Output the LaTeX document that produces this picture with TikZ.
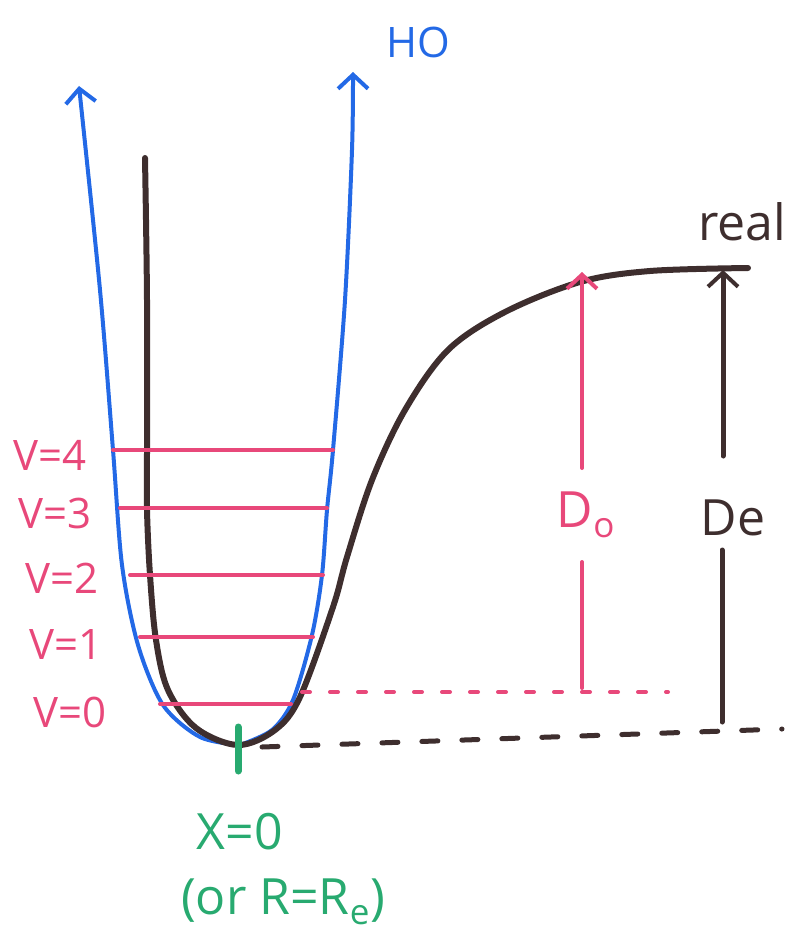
\documentclass[tikz,border=0pt]{standalone}
\usepackage{fontspec}
\setsansfont{Open Sans}
\usetikzlibrary{arrows.meta}

\definecolor{hoblue}{RGB}{35,105,230}
\definecolor{realbrown}{RGB}{62,46,46}
\definecolor{levelpink}{RGB}{232,72,122}
\definecolor{zerogreen}{RGB}{40,170,112}

\begin{document}
\begin{tikzpicture}[x=1pt, y=-1pt, line cap=round, line join=round,
    lbl/.style={anchor=center, inner sep=0pt, font=\sffamily\fontsize{42}{48}\selectfont},
    big/.style={lbl, font=\sffamily\fontsize{50}{56}\selectfont}]
  \def\barb{-{Straight Barb[length=14pt,width=30pt,line width=4pt]}}

  % ════ 画布 ════
  \path[use as bounding box] (0,0) rectangle (804,936);

  % ════ 谐振子势（蓝色抛物线）════
  \draw[hoblue, line width=4pt, \barb] plot[smooth] coordinates {
      (240,745) (200,737) (163,705) (138,645) (122,565) (113,450) (100,290) (79,86)};
  \draw[hoblue, line width=4pt, \barb] plot[smooth] coordinates {
      (240,745) (272,730) (293,700) (312,635) (322,575) (327,510) (333,450) (345,300) (352,150) (353,72)};

  % ════ 真实势（棕黑色曲线）════
  \draw[realbrown, line width=6pt] plot[smooth, tension=0.55] coordinates {
      (145,158) (147,300) (147,450) (147,510) (150,575) (156,640) (168,690) (196,728) (238,745)
      (275,730) (300,697) (333,607) (347,557) (372,480) (405,410) (448,350) (505,312) (580,282)
      (650,271) (748,268)};

  % ════ 振动能级 v = 0..4 ════
  \foreach \yy/\xa/\xb in {450/113/333, 508/120/327, 575/130/323, 637/140/313, 704/160/291}
    \draw[levelpink, line width=4pt] (\xa,\yy) -- (\xb,\yy);

  % ════ 基线（零点能虚线 / 势阱底虚线）════
  \draw[levelpink, line width=4pt, dash pattern=on 8pt off 20pt] (302,692) -- (668,692);
  \draw[realbrown, line width=5pt, dash pattern=on 16pt off 24pt] (262,747) -- (782,729);

  % ════ 平衡位置标记 ════
  \draw[zerogreen, line width=7pt] (238,727) -- (238,771);

  % ════ 标签 ════
  \node[lbl, hoblue]    (ho)   at (418,42)  {HO};
  \node[big, realbrown] (real) at (742,222) {real};
  \node[lbl, levelpink] (v4)   at (50,455)  {V=4};
  \node[lbl, levelpink] (v3)   at (55,513)  {V=3};
  \node[lbl, levelpink] (v2)   at (62,578)  {V=2};
  \node[lbl, levelpink] (v1)   at (66,645)  {V=1};
  \node[lbl, levelpink] (v0)   at (70,712)  {V=0};
  \node[big, levelpink] (dnot) at (586,515) {D\textsubscript{o}};
  \node[big, realbrown] (de)   at (733,518) {De};
  \node[big, zerogreen] (xzero) at (240,832) {X=0};
  \node[big, zerogreen] (rre)  at (283,902) {(or R=R\textsubscript{e})};

  % ════ 离解能箭头 D0 / De ════
  \coordinate (d0top) at (582,272);
  \coordinate (d0bot) at (582,688);
  \coordinate (detop) at (723,270);
  \coordinate (debot) at (722,722);
  \draw[levelpink, line width=4pt, \barb] (582,468) -- (d0top);
  \draw[levelpink, line width=4pt] (582,562) -- (d0bot);
  \draw[realbrown, line width=5pt, \barb] (723,456) -- (detop);
  \draw[realbrown, line width=5pt] (722,550) -- (debot);
\end{tikzpicture}
\end{document}
